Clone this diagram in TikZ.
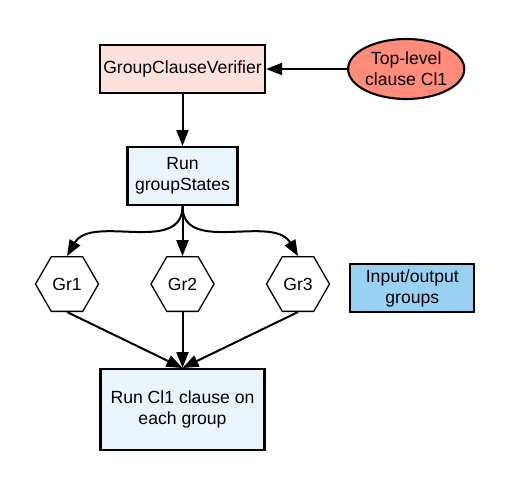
\documentclass[tikz,border=0pt]{standalone}
\usepackage{fontspec}
\setmainfont{Liberation Sans}
\usetikzlibrary{positioning,arrows.meta}
\usetikzlibrary{shapes.geometric}
\definecolor{vfill}{HTML}{FFE1DB}
\definecolor{pfill}{HTML}{EAF4FB}
\definecolor{tfill}{HTML}{FF8C7B}
\definecolor{iofill}{HTML}{99D1F3}
\tikzset{
  vb/.style={rectangle, minimum width=165pt, minimum height=48pt, inner xsep=1pt, text centered, draw=black, line width=2.1pt, fill=vfill},
  pb/.style={rectangle, minimum width=110pt, minimum height=58pt, align=center, draw=black, line width=2.1pt, fill=pfill},
  tl/.style={ellipse, minimum width=103pt, minimum height=60pt, inner sep=0pt, align=center, draw=black, line width=2.1pt, fill=tfill},
  gr/.style={regular polygon, regular polygon sides=6, minimum size=63pt, inner sep=0pt, draw=black, line width=1.3pt, fill=white},
  io/.style={rectangle, minimum width=124pt, minimum height=48pt, align=center, draw=black, line width=2.1pt, fill=iofill},
  ar/.style={line width=2pt, -{Triangle[length=16pt,width=12pt]}},
  every node/.style={font=\fontsize{17.6}{21}\selectfont}
}

\begin{document}
\begin{tikzpicture}[x=1pt,y=-1pt]
	\useasboundingbox (0,0) rectangle (510,486);
	\node[vb] (verifier) at (182.5,69) {GroupClauseVerifier};
	\node[tl, right=81pt of verifier] (toplevel) {Top-level\\clause Cl1};
	\node[pb, below=52pt of verifier] (rungroups) {Run\\groupStates};
	\node[gr, below=50pt of rungroups] (gr2) {Gr2};
	\node[gr, left=51pt of gr2] (gr1) {Gr1};
	\node[gr, right=51pt of gr2] (gr3) {Gr3};
	\node[io, right=19pt of gr3, yshift=-4pt] (iogroups) {Input/output\\groups};
	\node[pb, below=56pt of gr2, minimum width=164pt, minimum height=81pt] (runclause) {Run Cl1 clause on\\each group};

	\draw[ar] (toplevel) -- (verifier);
	\draw[ar] (verifier) -- (rungroups);

	\draw[ar] (rungroups.south) to[out=-90,in=60] (gr1.north);
	\draw[ar] (rungroups.south) -- (gr2.north);
	\draw[ar] (rungroups.south) to[out=-90,in=120] (gr3.north);

	\draw[ar] (gr1.south) -- (runclause.north);
	\draw[ar] (gr2.south) -- (runclause.north);
	\draw[ar] (gr3.south) -- (runclause.north);
\end{tikzpicture}
\end{document}
